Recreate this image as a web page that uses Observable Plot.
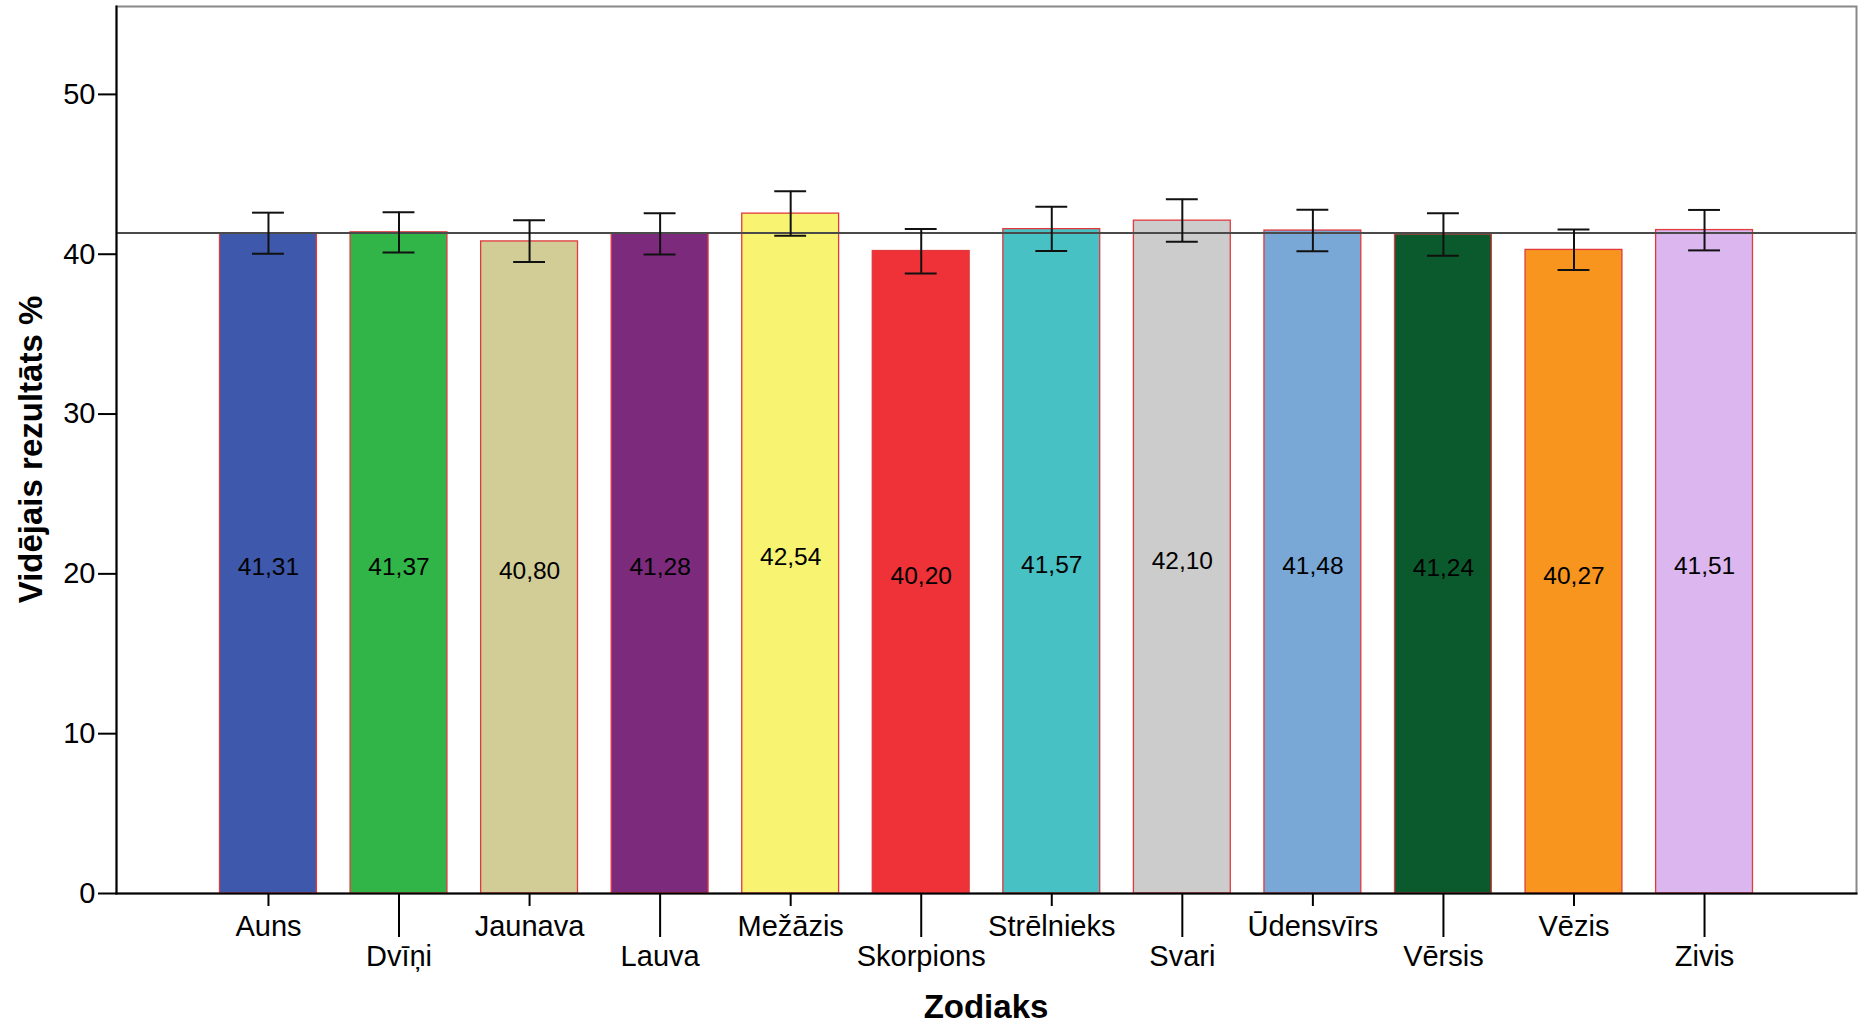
<!DOCTYPE html>
<html>
<head>
<meta charset="utf-8">
<script src="https://cdn.jsdelivr.net/npm/d3@7"></script>
<script src="https://cdn.jsdelivr.net/npm/@observablehq/plot@0.6"></script>
<style>
  html, body { margin: 0; padding: 0; background: #fff; }
  #chart svg { display: block; }
</style>
</head>
<body>
<div id="chart"></div>
<script>
const categories = ["Auns","Dvīņi","Jaunava","Lauva","Mežāzis","Skorpions","Strēlnieks","Svari","Ūdensvīrs","Vērsis","Vēzis","Zivis"];
const means  = [41.31,41.37,40.80,41.28,42.54,40.20,41.57,42.10,41.48,41.24,40.27,41.51];
const ciLow  = [40.03,40.10,39.51,39.99,41.16,38.80,40.20,40.78,40.18,39.91,39.01,40.24];
const ciHigh = [42.60,42.63,42.12,42.56,43.94,41.58,42.97,43.44,42.79,42.56,41.54,42.77];
const colors = ["#3e58ab","#31b548","#d2cd96","#7b2a7c","#f8f471","#ee3238","#48c1c4","#cccccc","#7aa8d6","#0b5a2e","#f7951f","#dcb6ef"];
const grandMean = 41.33;
const yTicks = [0,10,20,30,40,50];
const xLabel = "Zodiaks";
const yLabel = "Vidējais rezultāts %";

const data = categories.map((c, i) => ({cat: c, mean: means[i], lo: ciLow[i], hi: ciHigh[i], color: colors[i]}));
const evenCats = categories.filter((c, i) => i % 2 === 0);
const oddCats = categories.filter((c, i) => i % 2 === 1);
const fmt = v => d3.format(".2f")(v).replace(".", ",");

const W = 1867, H = 1027;
const chart = Plot.plot({
  width: W,
  height: H,
  marginLeft: 116,
  marginRight: 11,
  marginTop: 6,
  marginBottom: 134,
  style: {fontFamily: "'Liberation Sans', Arial, sans-serif", fontSize: "29px", color: "#000", background: "#fff"},
  x: {type: "band", domain: categories, paddingInner: 0.258, paddingOuter: 0.793, round: false},
  y: {domain: [0, 55.5]},
  color: {type: "identity"},
  marks: [
    Plot.frame({stroke: "#888", strokeWidth: 2}),
    Plot.barY(data, {x: "cat", y: "mean", fill: "color", stroke: "#e03a3e", strokeWidth: 1.3}),
    Plot.ruleY([grandMean], {stroke: "#4a4a4a", strokeWidth: 2}),
    Plot.ruleX(data, {x: "cat", y1: "lo", y2: "hi", stroke: "#111", strokeWidth: 2}),
    Plot.tickY(data, {x: "cat", y: "lo", stroke: "#111", strokeWidth: 2, insetLeft: 32.5, insetRight: 32.5}),
    Plot.tickY(data, {x: "cat", y: "hi", stroke: "#111", strokeWidth: 2, insetLeft: 32.5, insetRight: 32.5}),
    Plot.text(data, {x: "cat", y: d => d.mean / 2, text: d => fmt(d.mean), fontSize: 24.5, dy: 4, fill: "#000"}),
    Plot.frame({anchor: "left", stroke: "#000", strokeWidth: 2}),
    Plot.frame({anchor: "bottom", stroke: "#000", strokeWidth: 2}),
    Plot.axisY({ticks: yTicks, tickSize: 18, tickPadding: 3, strokeWidth: 2, label: null, fontSize: 29}),
    Plot.axisX({ticks: evenCats, tickSize: 13, tickPadding: 9, strokeWidth: 2, label: null, fontSize: 29}),
    Plot.axisX({ticks: oddCats, tickSize: 44, tickPadding: 8, strokeWidth: 2, label: null, fontSize: 29})
  ]
});

const svg = d3.select(chart.tagName.toLowerCase() === "svg" ? chart : chart.querySelector("svg"));
svg.append("text")
  .attr("x", (116 + (W - 11)) / 2)
  .attr("y", 1018)
  .attr("text-anchor", "middle")
  .attr("font-weight", "bold")
  .attr("font-size", 33)
  .attr("fill", "#000")
  .text(xLabel);
svg.append("text")
  .attr("transform", `translate(42, ${(6 + (H - 134)) / 2}) rotate(-90)`)
  .attr("text-anchor", "middle")
  .attr("font-weight", "bold")
  .attr("font-size", 33)
  .attr("fill", "#000")
  .text(yLabel);

document.getElementById("chart").appendChild(chart);
</script>
</body>
</html>
